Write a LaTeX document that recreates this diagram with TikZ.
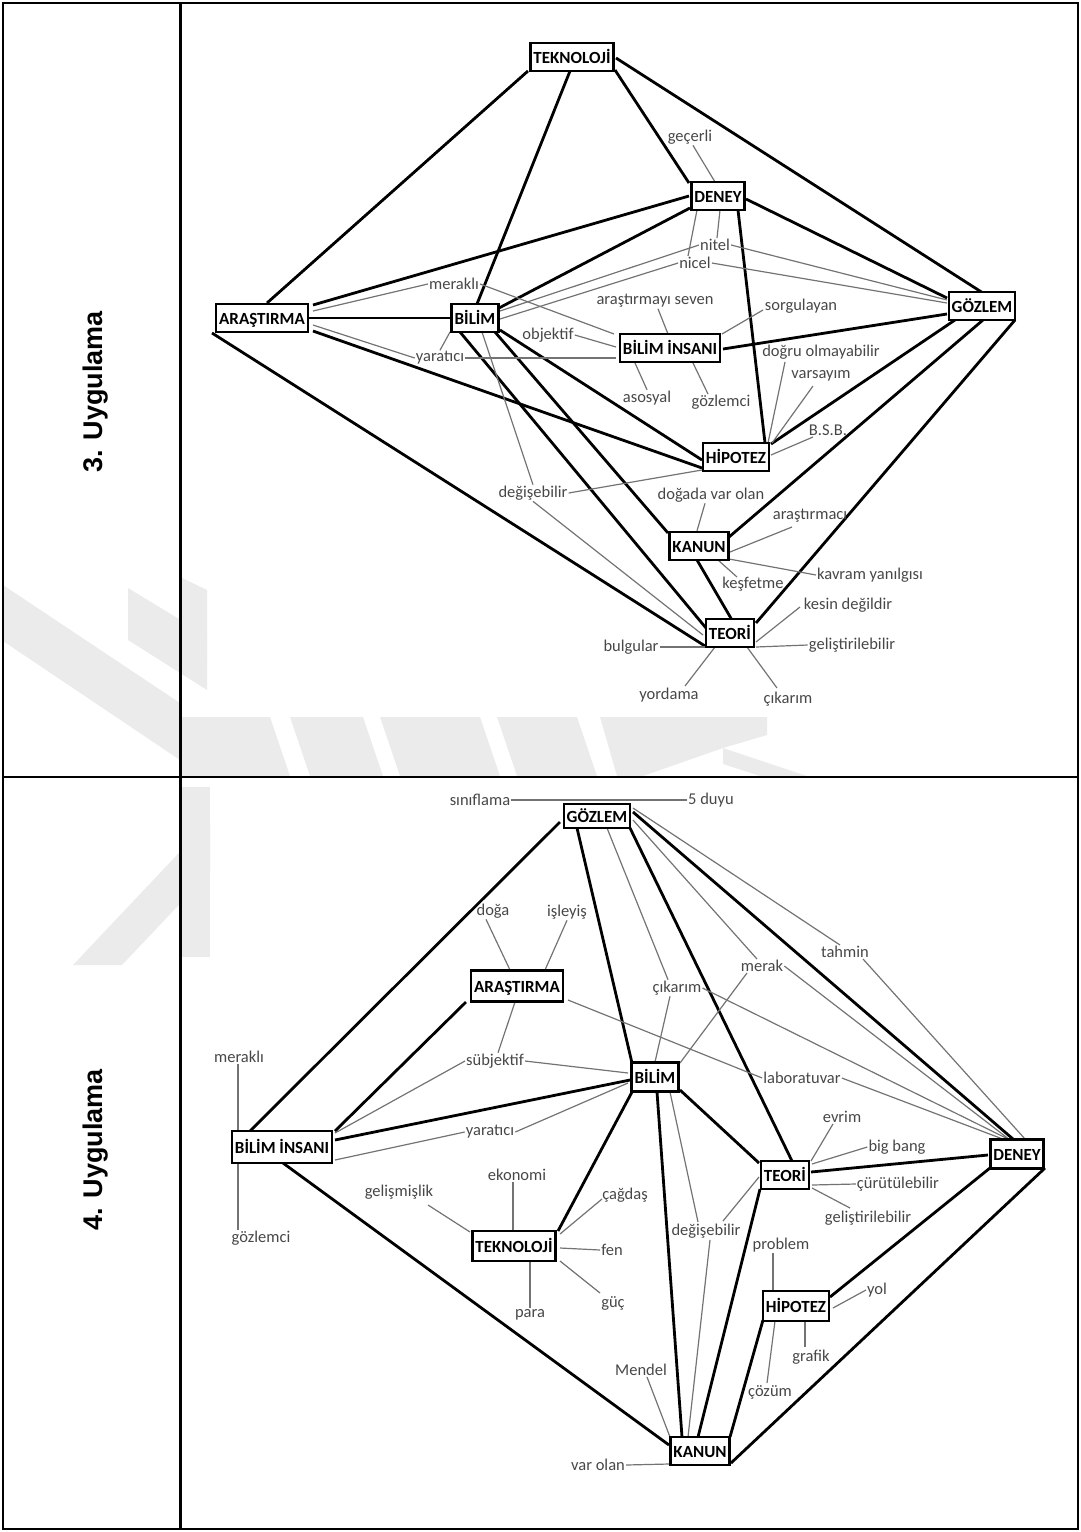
\documentclass[tikz,border=0pt]{standalone}
\usepackage{fontspec}
\setmainfont{Carlito}
\newfontfamily\headfont{Liberation Sans}
\usetikzlibrary{calc,backgrounds}
\pgfdeclarelayer{emblem}
\pgfsetlayers{emblem,background,main}

\begin{document}
\begin{tikzpicture}[x=1pt,y=-1pt,
  concept/.style={draw, line width=2.4pt, fill=white,
    font=\fontsize{17}{19}\selectfont\bfseries,
    inner xsep=3pt, inner ysep=0pt, minimum height=28pt,
    text height=12pt, text depth=0pt},
  lbl/.style={font=\fontsize{16.5}{18}\selectfont, text=black!72, inner sep=1pt},
  tk/.style={line width=2.8pt},
  tln/.style={draw=black!55, line width=1.2pt},
  head/.style={rotate=90, font=\headfont\bfseries\fontsize{27}{30}\selectfont},
  mark/.style={fill=black!8, draw=none}
]
\useasboundingbox (0,0) rectangle (1081,1532);

% faint emblem behind the table
\begin{pgfonlayer}{emblem}
\fill[black!8] (3,585) -- (180,703) -- (180,760) -- (3,641) -- cycle;
\fill[black!8] (128,588) -- (207,636) -- (207,690) -- (128,640) -- cycle;
\fill[black!8] (180,577) -- (207,590) -- (207,663) -- (180,650) -- cycle;
\fill[black!8] (73,965) -- (122,965) -- (210,872) -- (210,820) -- cycle;
\fill[black!8] (181,717) -- (270,717) -- (290,776) -- (181,776) -- cycle;
\fill[black!8] (290,717) -- (363,717) -- (383,776) -- (310,776) -- cycle;
\fill[black!8] (380,717) -- (480,717) -- (500,776) -- (400,776) -- cycle;
\fill[black!8] (497,717) -- (577,717) -- (597,776) -- (517,776) -- cycle;
\fill[black!8] (600,717) -- (767,717) -- (767,735) -- (723,748) -- (643,776) -- (617,776) -- cycle;
\fill[black!8] (723,748) -- (807,776) -- (760,776) -- (723,764) -- cycle;
\fill[black!8] (181,787) -- (210,787) -- (210,957) -- (181,957) -- cycle;
\end{pgfonlayer}

% table frame
\draw[line width=2pt] (3,3) rectangle (1078,1529);
\draw[line width=3pt] (180,3) -- (180,1529);
\draw[line width=2pt] (3,777) -- (1078,777);

\node[head] (u3) at (96,392) {3. Uygulama};
\node[head] (u4) at (96,1150) {4. Uygulama};

% ---------------- map 3 ----------------
\node[concept] (tek3) at (572,57)  {TEKNOLOJİ};
\node[concept] (den3) at (718,196) {DENEY};
\node[concept] (ara3) at (262,318) {ARAŞTIRMA};
\node[concept] (bil3) at (475,318) {BİLİM};
\node[concept] (goz3) at (982,306) {GÖZLEM};
\node[concept] (bin3) at (670,348) {BİLİM İNSANI};
\node[concept] (hip3) at (736,457) {HİPOTEZ};
\node[concept] (kan3) at (699,546) {KANUN};
\node[concept] (teo3) at (730,633) {TEORİ};

\node[lbl] (gecerli)   at (690,137) {geçerli};
\node[lbl] (nitel)     at (715,245) {nitel};
\node[lbl] (nicel)     at (695,263) {nicel};
\node[lbl] (merakli3)  at (454,284) {meraklı};
\node[lbl] (arsev)     at (655,301) {araştırmayı seven};
\node[lbl] (sorgu)     at (801,306) {sorgulayan};
\node[lbl] (objektif)  at (548,335) {objektif};
\node[lbl] (yaratici3) at (440,358) {yaratıcı};
\node[lbl] (asosyal)   at (647,398) {asosyal};
\node[lbl] (gozlemci3) at (721,402) {gözlemci};
\node[lbl] (dogru)     at (821,352) {doğru olmayabilir};
\node[lbl] (varsayim)  at (821,376) {varsayım};
\node[lbl] (bsb)       at (828,430) {B.S.B.};
\node[lbl] (degis3)    at (533,493) {değişebilir};
\node[lbl] (dogada)    at (711,495) {doğada var olan};
\node[lbl] (arastirmaci) at (810,516) {araştırmacı};
\node[lbl] (kavram)    at (870,575) {kavram yanılgısı};
\node[lbl] (kesfetme)  at (753,584) {keşfetme};
\node[lbl] (kesin)     at (848,605) {kesin değildir};
\node[lbl] (gelistir3) at (852,645) {geliştirilebilir};
\node[lbl] (bulgular)  at (631,647) {bulgular};
\node[lbl] (yordama)   at (669,695) {yordama};
\node[lbl] (cikarim3)  at (788,699) {çıkarım};

\begin{scope}[on background layer]
% main links
\draw[tk] ([shift={(5,-15)}]ara3.center) -- ([shift={(-44,14)}]tek3.center);
\draw[tk] ([shift={(2,-14)}]bil3.center) -- ([shift={(-2,14)}]tek3.center);
\draw[tk] ([shift={(43,13)}]tek3.center) -- ([shift={(-29,-13)}]den3.center);
\draw[tk] ([shift={(44,1)}]tek3.center) -- ([shift={(1,-13)}]goz3.center);
\draw[tk] ([shift={(51,-13)}]ara3.center) -- ([shift={(-29,0)}]den3.center);
\draw[tk] ([shift={(24,-10)}]bil3.center) -- ([shift={(-28,12)}]den3.center);
\draw[tk] (ara3.east) -- (bil3.west);
\draw[tk] ([shift={(28,3)}]den3.center) -- ([shift={(-35,-8)}]goz3.center);
\draw[tk] ([shift={(20,14)}]den3.center) -- ([shift={(29,-14)}]hip3.center);
\draw[tk] ([shift={(53,1)}]bin3.center) -- ([shift={(-35,8)}]goz3.center);
\draw[tk] ([shift={(-27,14)}]goz3.center) -- ([shift={(35,-13)}]hip3.center);
\draw[tk] ([shift={(1,14)}]goz3.center) -- ([shift={(30,-9)}]kan3.center);
\draw[tk] ([shift={(33,14)}]goz3.center) -- ([shift={(26,-10)}]teo3.center);
\draw[tk] ([shift={(51,13)}]ara3.center) -- ([shift={(-34,11)}]hip3.center);
\draw[tk] ([shift={(-50,15)}]ara3.center) -- ([shift={(-25,13)}]teo3.center);
\draw[tk] ([shift={(25,12)}]bil3.center) -- ([shift={(-34,3)}]hip3.center);
\draw[tk] ([shift={(20,14)}]bil3.center) -- ([shift={(-31,-13)}]kan3.center);
\draw[tk] ([shift={(-15,14)}]bil3.center) -- ([shift={(-24,-5)}]teo3.center);
\draw[tk] ([shift={(-2,14)}]kan3.center) -- ([shift={(2,-13)}]teo3.center);
% labelled links
\draw[tln] ([xshift=3]gecerli.south) -- ([shift={(-3,-14)}]den3.center);
\draw[tln] ([shift={(2,14)}]den3.center) -- ([xshift=2]nitel.north);
\draw[tln] ([shift={(-21,14)}]den3.center) -- ([xshift=-7]nicel.north);
\draw[tln] (nitel.west) -- ([shift={(25,-7)}]bil3.center);
\draw[tln] (nitel.east) -- ([shift={(-35,-6)}]goz3.center);
\draw[tln] (nicel.west) -- ([shift={(25,1)}]bil3.center);
\draw[tln] (nicel.east) -- ([shift={(-35,-3)}]goz3.center);
\draw[tln] ([shift={(51,-7)}]ara3.center) -- (merakli3.west);
\draw[tln] (merakli3.east) -- ([shift={(-56,-14)}]bin3.center);
\draw[tln] ([xshift=3]arsev.south) -- ([shift={(-2,-14)}]bin3.center);
\draw[tln] ([shift={(52,-14)}]bin3.center) -- ([shift={(-38,4)}]sorgu.center);
\draw[tln] (objektif.east) -- ([shift={(-54,-1)}]bin3.center);
\draw[tln] (yaratici3.east) -- ([shift={(-54,10)}]bin3.center);
\draw[tln] ([shift={(51,7)}]ara3.center) -- (yaratici3.west);
\draw[tln] ([shift={(-25,14)}]bil3.center) -- (yaratici3.north);
\draw[tln] ([shift={(-35,15)}]bin3.center) -- (asosyal.north);
\draw[tln] ([shift={(23,15)}]bin3.center) -- ([shift={(-13,-8)}]gozlemci3.center);
\draw[tln] ([shift={(32,-14)}]hip3.center) -- ([shift={(-36,10)}]dogru.center);
\draw[tln] ([shift={(36,-14)}]hip3.center) -- ([shift={(-8,10)}]varsayim.center);
\draw[tln] ([shift={(35,-2)}]hip3.center) -- ([shift={(-15,7)}]bsb.center);
\draw[tln] (degis3.east) -- ([shift={(-34,13)}]hip3.center);
\draw[tln] ([shift={(7,14)}]bil3.center) -- (degis3.north);
\draw[tln] (degis3.south) -- ([shift={(-27,2)}]teo3.center);
\draw[tln] ([xshift=-6]dogada.south) -- ([xshift=-2]kan3.north);
\draw[tln] ([shift={(31,6)}]kan3.center) -- ([shift={(-18,11)}]arastirmaci.center);
\draw[tln] ([shift={(30,13)}]kan3.center) -- (kavram.west);
\draw[tln] ([shift={(19,14)}]kan3.center) -- ([shift={(-16,-7)}]kesfetme.center);
\draw[tln] ([shift={(26,9)}]teo3.center) -- ([shift={(-48,2)}]kesin.center);
\draw[tln] ([shift={(26,14)}]teo3.center) -- (gelistir3.west);
\draw[tln] (bulgular.east) -- ([shift={(-25,14)}]teo3.center);
\draw[tln] ([shift={(-15,14)}]teo3.center) -- ([shift={(16,-9)}]yordama.center);
\draw[tln] ([shift={(17,14)}]teo3.center) -- ([shift={(-11,-11)}]cikarim3.center);
\end{scope}

% ---------------- map 4 ----------------
\node[concept, minimum height=24pt] (goz4) at (597,816) {GÖZLEM};
\node[concept, minimum height=31pt] (ara4) at (517,986) {ARAŞTIRMA};
\node[concept, minimum height=32pt] (bin4) at (282,1147) {BİLİM İNSANI};
\node[concept, minimum height=30pt] (tek4) at (514,1246) {TEKNOLOJİ};
\node[concept, minimum height=29pt] (bil4) at (655,1077) {BİLİM};
\node[concept] (teo4) at (785,1175) {TEORİ};
\node[concept, minimum height=29pt] (den4) at (1017,1154) {DENEY};
\node[concept, minimum height=30pt] (hip4) at (796,1306) {HİPOTEZ};
\node[concept] (kan4) at (700,1451) {KANUN};

\node[lbl] (sinif)      at (480,800)  {sınıflama};
\node[lbl] (duyu)       at (711,800)  {5 duyu};
\node[lbl] (doga)       at (493,911)  {doğa};
\node[lbl] (isleyis)    at (567,912)  {işleyiş};
\node[lbl] (subj)       at (495,1061) {sübjektif};
\node[lbl] (merakli4)   at (239,1057) {meraklı};
\node[lbl] (gozlemci4)  at (261,1238) {gözlemci};
\node[lbl] (yaratici4)  at (490,1132) {yaratıcı};
\node[lbl] (cikarim4)   at (677,988)  {çıkarım};
\node[lbl] (merak)      at (762,966)  {merak};
\node[lbl] (tahmin)     at (845,952)  {tahmin};
\node[lbl] (lab)        at (802,1078) {laboratuvar};
\node[lbl] (evrim)      at (842,1117) {evrim};
\node[lbl] (bigbang)    at (897,1147) {big bang};
\node[lbl] (curut)      at (898,1184) {çürütülebilir};
\node[lbl] (gelistir4)  at (868,1218) {geliştirilebilir};
\node[lbl] (degis4)     at (706,1231) {değişebilir};
\node[lbl] (problem)    at (781,1245) {problem};
\node[lbl] (yol)        at (877,1290) {yol};
\node[lbl] (grafik)     at (811,1357) {grafik};
\node[lbl] (cozum)      at (770,1392) {çözüm};
\node[lbl] (mendel)     at (641,1370) {Mendel};
\node[lbl] (varolan)    at (598,1465) {var olan};
\node[lbl] (ekonomi)    at (517,1175) {ekonomi};
\node[lbl] (gelismislik) at (399,1192) {gelişmişlik};
\node[lbl] (cagdas)     at (625,1195) {çağdaş};
\node[lbl] (fen)        at (612,1250) {fen};
\node[lbl] (guc)        at (613,1303) {güç};
\node[lbl] (para)       at (530,1315) {para};

\begin{scope}[on background layer]
% main links
\draw[tk] ([shift={(-37,6)}]goz4.center) -- ([shift={(-32,-16)}]bin4.center);
\draw[tk] ([shift={(-20,12)}]goz4.center) -- ([shift={(-23,-14)}]bil4.center);
\draw[tk] ([shift={(33,12)}]goz4.center) -- ([shift={(7,-14)}]teo4.center);
\draw[tk] ([shift={(36,-4)}]goz4.center) -- ([shift={(-4,-15)}]den4.center);
\draw[tk] ([shift={(53,-16)}]bin4.center) -- ([shift={(-51,16)}]ara4.center);
\draw[tk] ([shift={(53,-7)}]bin4.center) -- ([shift={(-25,3)}]bil4.center);
\draw[tk] ([shift={(1,16)}]bin4.center) -- ([shift={(-31,-6)}]kan4.center);
\draw[tk] ([shift={(-23,15)}]bil4.center) -- ([shift={(44,-15)}]tek4.center);
\draw[tk] ([shift={(2,15)}]bil4.center) -- ([shift={(-18,-14)}]kan4.center);
\draw[tk] ([shift={(25,13)}]bil4.center) -- ([shift={(-26,-12)}]teo4.center);
\draw[tk] ([shift={(-25,14)}]teo4.center) -- ([shift={(-2,-14)}]kan4.center);
\draw[tk] ([shift={(26,-3)}]teo4.center) -- ([shift={(-29,1)}]den4.center);
\draw[tk] ([shift={(34,-9)}]hip4.center) -- ([shift={(-27,14)}]den4.center);
\draw[tk] ([shift={(-33,14)}]hip4.center) -- ([shift={(30,-14)}]kan4.center);
\draw[tk] ([shift={(31,12)}]kan4.center) -- ([shift={(28,14)}]den4.center);
% labelled links
\draw[tln] (sinif.east) -- (duyu.west);
\draw[tln] ([xshift=-7]doga.south) -- ([shift={(-7,-16)}]ara4.center);
\draw[tln] (isleyis.south) -- ([shift={(28,-16)}]ara4.center);
\draw[tln] ([shift={(-2,16)}]ara4.center) -- ([xshift=3]subj.north);
\draw[tln] (subj.east) -- ([shift={(-27,-4)}]bil4.center);
\draw[tln] (subj.west) -- ([shift={(53,-14)}]bin4.center);
\draw[tln] ([xshift=-1]merakli4.south) -- ([shift={(-44,-16)}]bin4.center);
\draw[tln] ([shift={(-44,16)}]bin4.center) -- ([xshift=-23]gozlemci4.north);
\draw[tln] ([shift={(53,13)}]bin4.center) -- (yaratici4.west);
\draw[tln] (yaratici4.east) -- ([shift={(-27,6)}]bil4.center);
\draw[tln] ([shift={(10,12)}]goz4.center) -- ([xshift=-9]cikarim4.north);
\draw[tln] ([xshift=-7]cikarim4.south) -- ([shift={(0,-15)}]bil4.center);
\draw[tln] (cikarim4.east) -- ([shift={(-7,-14)}]den4.center);
\draw[tln] ([shift={(36,4)}]goz4.center) -- ([xshift=-5]merak.north);
\draw[tln] ([xshift=-15]merak.south) -- ([shift={(25,-14)}]bil4.center);
\draw[tln] (merak.east) -- ([shift={(-7,-14)}]den4.center);
\draw[tln] ([shift={(36,-8)}]goz4.center) -- ([xshift=-5]tahmin.north);
\draw[tln] ([xshift=18]tahmin.south) -- ([shift={(8,-15)}]den4.center);
\draw[tln] ([shift={(51,14)}]ara4.center) -- (lab.west);
\draw[tln] (lab.east) -- ([shift={(-9,-13)}]den4.center);
\draw[tln] ([xshift=-9]evrim.south) -- ([shift={(26,-14)}]teo4.center);
\draw[tln] (bigbang.west) -- ([shift={(27,-11)}]teo4.center);
\draw[tln] ([shift={(27,10)}]teo4.center) -- (curut.west);
\draw[tln] ([shift={(27,13)}]teo4.center) -- ([shift={(-18,-10)}]gelistir4.center);
\draw[tln] ([shift={(15,15)}]bil4.center) -- ([shift={(-8,-9)}]degis4.center);
\draw[tln] ([shift={(17,-10)}]degis4.center) -- ([shift={(-26,2)}]teo4.center);
\draw[tln] ([shift={(4,9)}]degis4.center) -- ([shift={(-12,-14)}]kan4.center);
\draw[tln] ([xshift=-8]problem.south) -- ([shift={(-23,-15)}]hip4.center);
\draw[tln] (yol.west) -- ([shift={(37,2)}]hip4.center);
\draw[tln] ([shift={(9,15)}]hip4.center) -- ([shift={(-6,-10)}]grafik.center);
\draw[tln] ([shift={(-21,15)}]hip4.center) -- ([shift={(-3,-9)}]cozum.center);
\draw[tln] ([xshift=6]mendel.south) -- ([shift={(-30,-14)}]kan4.center);
\draw[tln] (varolan.east) -- ([shift={(-31,13)}]kan4.center);
\draw[tln] ([xshift=-4]ekonomi.south) -- ([xshift=-1]tek4.north);
\draw[tln] ([shift={(29,13)}]gelismislik.center) -- ([shift={(-44,-14)}]tek4.center);
\draw[tln] ([shift={(-23,4)}]cagdas.center) -- ([shift={(46,-12)}]tek4.center);
\draw[tln] ([shift={(46,2)}]tek4.center) -- (fen.west);
\draw[tln] ([shift={(46,15)}]tek4.center) -- ([shift={(-13,-10)}]guc.center);
\draw[tln] ([shift={(16,15)}]tek4.center) -- (para.north);
\end{scope}
\end{tikzpicture}
\end{document}
